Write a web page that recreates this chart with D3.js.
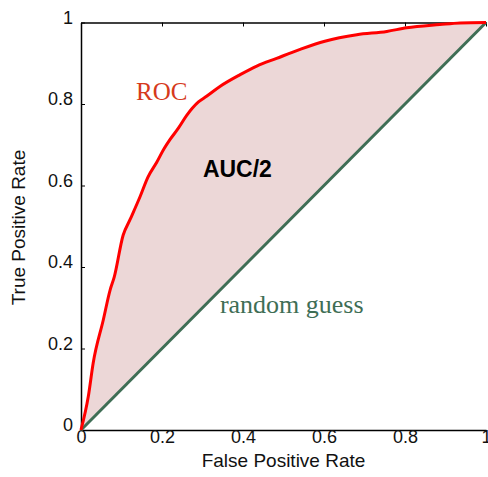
<!DOCTYPE html>
<html>
<head>
<meta charset="utf-8">
<script src="https://cdn.jsdelivr.net/npm/d3@7"></script>
<style>
  body { margin: 0; background: #fff; }
  .tick text { font-family: "Liberation Sans", Arial, sans-serif; font-size: 18px; fill: #111; }
</style>
</head>
<body>
<div id="chart"></div>
<script>
// ROC curve (false positive rate, true positive rate)
var fpr = [0, 0.018, 0.03, 0.055, 0.072, 0.082, 0.104, 0.121, 0.146, 0.165, 0.187, 0.205, 0.22, 0.24, 0.261, 0.29, 0.31, 0.343, 0.393, 0.434, 0.483, 0.541, 0.602, 0.681, 0.755, 0.804, 0.886, 0.936, 1];
var tpr = [0, 0.082, 0.164, 0.27, 0.344, 0.375, 0.478, 0.516, 0.573, 0.62, 0.657, 0.69, 0.713, 0.74, 0.772, 0.805, 0.819, 0.843, 0.872, 0.893, 0.912, 0.934, 0.954, 0.97, 0.978, 0.987, 0.995, 0.999, 1];

// random guess diagonal
var guessX = [0, 1];
var guessY = [0, 1];

var tickValues = [0, 0.2, 0.4, 0.6, 0.8, 1];
var tickLabels = ["0", "0.2", "0.4", "0.6", "0.8", "1"];

var margin = { top: 22.5, right: 2, bottom: 47, left: 81 },
    w = 488 - margin.left - margin.right,
    h = 477 - margin.top - margin.bottom;

var svg = d3.select('#chart')
    .append('svg')
    .attr('width', 488)
    .attr('height', 477)
    .append('g')
    .attr('transform', `translate(${margin.left},${margin.top})`);

var x = d3.scaleLinear().domain([0, 1]).range([0, w]);
var y = d3.scaleLinear().domain([0, 1]).range([h, 0]);

var roc = fpr.map((d, i) => [d, tpr[i]]);
var guess = guessX.map((d, i) => [d, guessY[i]]);

// shaded area between ROC and the diagonal (y = x)
svg.append('path')
    .datum(roc)
    .attr('fill', '#ecd7d7')
    .attr('stroke', 'none')
    .attr('d', d3.area()
        .curve(d3.curveMonotoneX)
        .x(d => x(d[0]))
        .y0(d => y(d[0]))
        .y1(d => y(d[1])));

// axes
var fmt = d => tickLabels[tickValues.indexOf(d)];

var yAxis = svg.append('g')
    .call(d3.axisLeft(y).tickValues(tickValues).tickFormat(fmt).tickSizeInner(-4).tickSizeOuter(0).tickPadding(8));
yAxis.select('.domain').attr('stroke', '#000').attr('stroke-width', 1.5);
yAxis.selectAll('.tick line').attr('stroke', '#000');
yAxis.selectAll('.tick text').attr('dy', '0.05em');

var xAxis = svg.append('g')
    .attr('transform', `translate(0,${h})`)
    .call(d3.axisBottom(x).tickValues(tickValues).tickFormat(fmt).tickSize(0).tickPadding(0));
xAxis.select('.domain').attr('stroke', '#000').attr('stroke-width', 1.5);
xAxis.selectAll('.tick text').attr('dy', '0.72em');

var topAxis = svg.append('g')
    .call(d3.axisTop(x).tickValues(tickValues).tickFormat('').tickSizeInner(-4).tickSizeOuter(0));
topAxis.select('.domain').attr('stroke', '#000').attr('stroke-width', 1.5);
topAxis.selectAll('.tick line').attr('stroke', '#000');

// random guess line
svg.append('path')
    .datum(guess)
    .attr('fill', 'none')
    .attr('stroke', '#3f6e55')
    .attr('stroke-width', 3)
    .attr('d', d3.line().x(d => x(d[0])).y(d => y(d[1])));

// ROC line
svg.append('path')
    .datum(roc)
    .attr('fill', 'none')
    .attr('stroke', '#ff0000')
    .attr('stroke-width', 3)
    .attr('stroke-linejoin', 'round')
    .attr('d', d3.line().curve(d3.curveMonotoneX).x(d => x(d[0])).y(d => y(d[1])));

// annotations
svg.append('text')
    .attr('x', x(0.136))
    .attr('y', y(0.81))
    .attr('font-family', '"Liberation Serif", "Times New Roman", serif')
    .attr('font-size', 25)
    .attr('fill', '#d63a1c')
    .text('ROC');

svg.append('text')
    .attr('x', x(0.301))
    .attr('y', y(0.62))
    .attr('font-family', '"Liberation Sans", Arial, sans-serif')
    .attr('font-weight', 'bold')
    .attr('font-size', 23)
    .attr('fill', '#000')
    .text('AUC/2');

svg.append('text')
    .attr('x', x(0.343))
    .attr('y', y(0.287))
    .attr('font-family', '"Liberation Serif", "Times New Roman", serif')
    .attr('font-size', 26)
    .attr('fill', '#3f6e55')
    .text('random guess');

// axis titles
svg.append('text')
    .attr('x', w / 2)
    .attr('y', h + 37)
    .attr('text-anchor', 'middle')
    .attr('font-family', '"Liberation Sans", Arial, sans-serif')
    .attr('font-size', 19)
    .attr('fill', '#111')
    .text('False Positive Rate');

svg.append('text')
    .attr('transform', `translate(${-56},${205}) rotate(-90)`)
    .attr('text-anchor', 'middle')
    .attr('font-family', '"Liberation Sans", Arial, sans-serif')
    .attr('font-size', 19)
    .attr('fill', '#111')
    .text('True Positive Rate');
</script>
</body>
</html>
